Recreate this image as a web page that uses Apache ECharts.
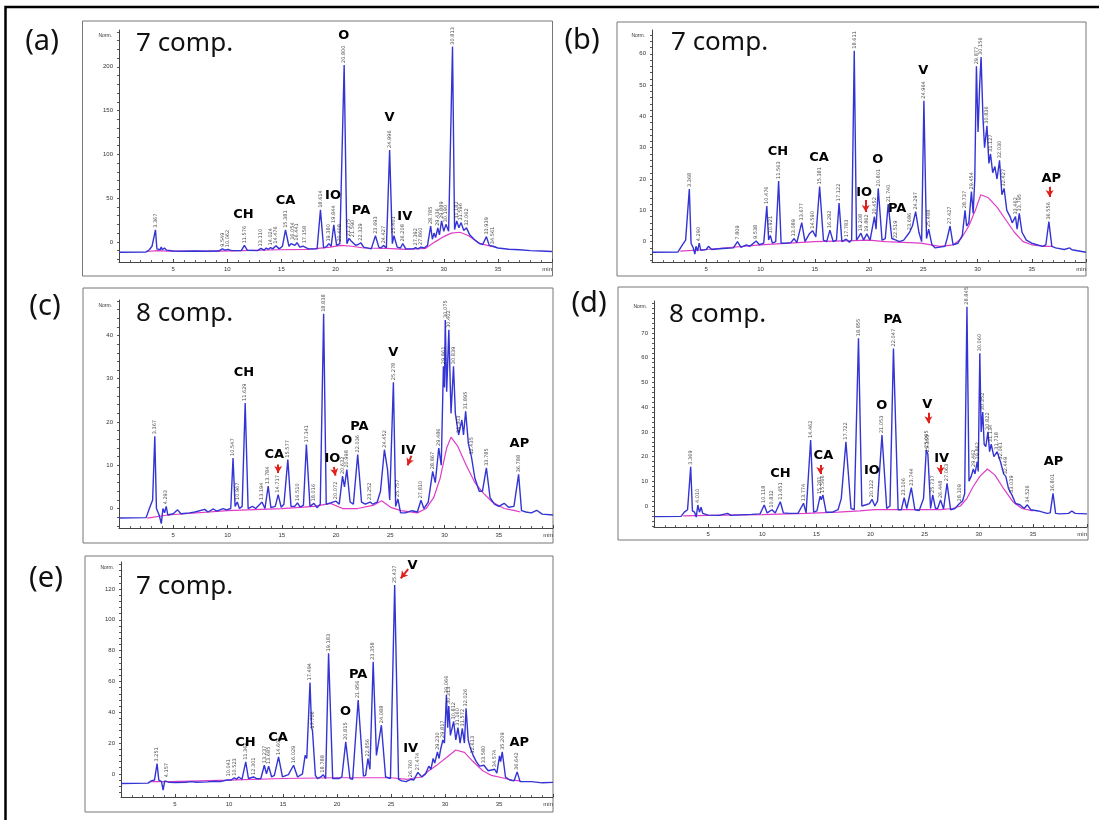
<!DOCTYPE html>
<html><head><meta charset="utf-8">
<script src="https://cdn.jsdelivr.net/npm/echarts@6/dist/echarts.min.js"></script>
<style>html,body{margin:0;padding:0;background:#fff;}#c{width:1099px;height:820px;}</style>
</head><body><div id="c"></div>
<script>
// ---------- DATA (retention time in min, response in Norm.) ----------
const xLabelValues = [5, 10, 15, 20, 25, 30, 35, 40];

const yLabelsA = [0, 50, 100, 150, 200];
const traceA = [[0,-11.8],[2.5,-11.5],[2.8,-9],[3.05,-5],[3.2,-7],[3.37,13.7],[3.5,-8],[3.8,-9],[3.9,-6],[4.0,-9],[4.2,-7],[4.4,-9.5],[5,-10.5],[6,-10.8],[7,-10.5],[8,-10.8],[9.2,-10.5],[9.55,-8],[9.8,-9.5],[10.06,-8.5],[10.4,-10],[11.3,-10],[11.58,-4],[11.85,-9.5],[12.8,-10],[13.11,-7.5],[13.4,-9.5],[13.6,-7],[13.8,-8.5],[14.0,-6.5],[14.2,-8],[14.5,-4.5],[14.8,-8],[15.1,-5],[15.38,13.7],[15.7,-5],[15.9,-2],[16.05,0],[16.25,-4],[16.45,-1],[16.7,-6],[17.0,-5],[17.16,-4],[17.5,-8],[18.3,-8],[18.61,36.6],[18.9,-7],[19.2,-5],[19.38,-2],[19.6,-5],[19.84,19.4],[20.1,-4],[20.4,-2],[20.55,-3],[20.8,202],[21.05,-2],[21.25,4],[21.45,1],[21.6,3],[21.85,-4],[22.1,-3],[22.33,-1],[22.6,-6],[23.3,-8],[23.69,6.9],[24.0,-6],[24.2,-7],[24.43,-4],[24.7,-7],[25.0,105],[25.25,-2],[25.4,7],[25.7,-6],[26.0,-7],[26.21,-2],[26.5,-8],[27.2,-8],[27.4,-6.5],[27.6,-8],[27.9,-6],[28.2,-7],[28.5,-4],[28.79,18],[28.95,3],[29.1,10],[29.25,5],[29.45,16],[29.6,8],[29.8,24],[30.0,12],[30.2,20],[30.45,12],[30.6,14],[30.81,223],[31.0,14],[31.2,24],[31.4,16],[31.6,22],[31.85,13],[32.1,16],[32.4,8],[32.8,3],[33.3,-2],[33.6,-3],[33.94,6],[34.2,-4],[34.56,-5],[35,-7],[36,-8.5],[37,-9],[38,-10],[39,-10.5],[40,-11]];
const baseA = [[2.6,-11],[3.5,-10],[4.5,-10.5],[9.3,-10.5],[11.3,-10],[14.8,-9],[17.5,-8.5],[19.5,-6],[20.5,-4],[21.5,-5],[22.6,-7],[24.7,-7.5],[26.5,-8.5],[28.3,-7.5],[29.2,0],[30,6],[30.7,10],[31.5,11],[32.3,7],[33.2,-1],[34,-4],[34.8,-6]];
const rtA = [[3.37,13.7,'3.367'],[9.55,-8,'9.549'],[10.06,-8.5,'10.062'],[11.58,-4,'11.576'],[13.11,-7.5,'13.110'],[14.0,-6.5,'14.024'],[14.5,-4.5,'14.476'],[15.38,13.7,'15.381'],[16.05,0,'16.054'],[16.45,-1,'16.441'],[17.16,-4,'17.158'],[18.61,36.6,'18.614'],[19.38,-2,'19.380'],[19.84,19.4,'19.844'],[20.4,-2,'20.408'],[20.8,202,'20.800'],[21.25,4,'21.275'],[21.6,3,'21.590'],[22.33,-1,'22.329'],[23.69,6.9,'23.693'],[24.43,-4,'24.427'],[25.0,105,'24.996'],[25.4,7,'25.401'],[26.21,-2,'26.208'],[27.4,-6.5,'27.392'],[27.9,-6,'27.860'],[28.79,18,'28.785'],[29.45,16,'29.436'],[29.8,24,'29.889'],[30.2,20,'30.190'],[30.81,223,'30.813'],[31.2,24,'31.182'],[31.6,22,'31.596'],[32.1,16,'32.062'],[33.94,6,'33.939'],[34.56,-5,'34.561']];
const compA = [['CH',11.5,31.4],['CA',15.38,46.9],['IO',19.77,52.6],['O',20.76,235.4],['PA',22.36,35.4],['V',25.0,141.7],['IV',26.4,28.6]];
const arrowsA = [];

const yLabelsB = [0, 10, 20, 30, 40, 50, 60];
const traceB = [[0,-3.4],[2.4,-3.3],[2.8,-1],[3.1,0.5],[3.25,1],[3.44,16.8],[3.6,-0.5],[3.8,-2],[3.95,-4],[4.05,-1.5],[4.2,-3],[4.35,-0.5],[4.5,-2.8],[5.0,-2.5],[5.2,-1.5],[5.5,-2.5],[6.5,-2.2],[7.5,-2],[7.88,0],[8.2,-1.8],[8.7,-1],[9.0,-1.5],[9.6,0.2],[9.9,-1],[10.3,-0.5],[10.58,11.4],[10.75,0.5],[10.9,2],[11.1,-0.5],[11.4,0],[11.67,19.4],[11.9,-0.5],[12.3,-0.5],[12.8,-0.3],[13.1,1],[13.35,-0.3],[13.8,6.1],[14.1,0],[14.5,2.5],[14.8,3.5],[15.1,1.5],[15.45,17.6],[15.8,0.5],[16.1,0],[16.4,3.7],[16.7,0],[17.0,0.5],[17.24,12.3],[17.5,0],[17.9,0.8],[18.2,-0.2],[18.4,0.5],[18.64,61],[18.85,0.5],[19.05,1.5],[19.25,2.7],[19.5,0.5],[19.8,2.5],[20.1,0.5],[20.5,8],[20.65,4],[20.85,17],[21.2,0.5],[21.5,1],[21.77,12],[22.1,1],[22.5,0.5],[22.8,0],[23.2,0.5],[23.74,3],[24.0,5],[24.3,9.6],[24.6,3],[24.85,0],[25.06,45],[25.3,1],[25.5,4],[25.8,-1],[26.1,-2],[27.0,-1.5],[27.2,1],[27.47,5],[27.75,-1],[28.2,-0.5],[28.6,2],[28.85,10],[29.0,5],[29.2,6],[29.44,16],[29.6,9],[29.75,20],[29.9,56],[30.05,35],[30.2,50],[30.33,59],[30.5,40],[30.65,30],[30.87,37],[31.05,25],[31.2,28],[31.4,22],[31.6,24],[31.8,20],[32.03,26],[32.25,15],[32.45,17],[32.7,10],[33.0,8],[33.2,6],[33.5,8],[33.65,4],[33.85,9],[34.1,3],[34.5,0.5],[35,-0.5],[36,-1.5],[36.3,-1],[36.58,6.4],[36.85,-1.5],[37.2,-2],[38,-2.5],[38.5,-2],[38.7,-2.6],[40,-3.4]];
const baseB = [[2.6,-3],[5,-2.5],[10,-1],[15,0],[18.5,0.3],[20,0.5],[21.5,0],[24.8,-0.5],[26.5,-1.5],[27.8,-1],[28.5,1],[29.2,5],[29.8,10],[30.3,15],[31,14],[31.8,11],[32.6,7],[33.4,3],[34.2,0],[35,-1],[36.2,-1.5],[36.9,-1.5]];
const rtB = [[3.44,16.8,'3.368'],[4.35,-0.5,'4.290'],[7.88,0,'7.809'],[9.6,0.2,'9.538'],[10.58,11.4,'10.476'],[10.9,2,'10.921'],[11.67,19.4,'11.563'],[13.1,1,'13.089'],[13.8,6.1,'13.677'],[14.8,3.5,'14.590'],[15.45,17.6,'15.381'],[16.4,3.7,'16.292'],[17.24,12.3,'17.122'],[17.9,0.8,'17.783'],[18.64,61,'18.611'],[19.25,2.7,'19.208'],[19.8,2.5,'19.862'],[20.5,8,'20.452'],[20.85,17,'20.801'],[21.77,12,'21.740'],[22.5,0.5,'22.519'],[23.74,3,'23.686'],[24.3,9.6,'24.297'],[25.06,45,'24.964'],[25.5,4,'25.488'],[27.47,5,'27.427'],[28.85,10,'28.737'],[29.44,16,'29.454'],[29.9,56,'29.877'],[30.33,59,'30.156'],[30.87,37,'30.836'],[31.2,28,'31.127'],[32.03,26,'32.030'],[32.45,17,'32.427'],[33.5,8,'33.462'],[33.85,9,'33.795'],[36.58,6.4,'36.556']];
const compB = [['CH',11.6,28.7],['CA',15.4,26.9],['IO',19.55,15.6],['O',20.8,26.1],['PA',22.6,10.6],['V',25.0,54.5],['AP',36.8,20.2]];
const arrowsB = [[19.7,13.3,19.7,9.5],[36.65,17.5,36.65,14.3]];

const yLabelsC = [0, 10, 20, 30, 40];
const traceC = [[0,-2.2],[2.5,-2.1],[2.8,0],[3.1,2],[3.3,16.7],[3.45,0],[3.7,-1.5],[3.9,-3.5],[4.05,0],[4.2,-1],[4.35,0.5],[4.5,-1.5],[5.0,-1.2],[5.4,-0.3],[5.7,-1.2],[6.5,-1],[7.0,-0.8],[7.9,-0.2],[8.2,-0.8],[8.7,-0.1],[9.0,-0.6],[9.6,0],[9.9,-0.3],[10.3,0],[10.51,11.7],[10.7,0.5],[10.9,1.5],[11.1,0],[11.35,0.5],[11.63,24.4],[11.9,0],[12.3,0.5],[12.6,0],[13.18,1.5],[13.45,0],[13.75,5.2],[14.0,0.2],[14.4,0.5],[14.67,3.2],[14.95,0.3],[15.2,1],[15.56,11.3],[15.85,0.5],[16.2,0.5],[16.45,1.3],[16.7,0.3],[17.0,0.8],[17.27,14.8],[17.6,0.5],[17.97,1.2],[18.25,0.2],[18.55,1],[18.86,45],[19.1,1],[19.5,1.3],[20.0,1.7],[20.3,1],[20.6,7.5],[20.78,5],[21.0,9],[21.3,1.5],[21.6,1],[22.0,12.5],[22.35,1.5],[22.7,1],[23.14,1.5],[23.4,1],[23.8,1.5],[24.1,4],[24.46,13.6],[24.75,9],[24.95,2],[25.29,29.2],[25.5,0.5],[25.71,2.2],[25.95,-1],[26.4,-1],[27.0,-0.5],[27.5,-0.8],[27.83,1.9],[28.1,0],[28.5,1.5],[28.91,8.6],[29.15,6],[29.47,14],[29.7,10],[29.9,32.9],[30.0,28],[30.07,43.6],[30.2,27],[30.4,41.3],[30.6,22],[30.83,32.9],[31.0,22],[31.3,17],[31.6,20.5],[31.75,17],[31.95,22.5],[32.2,15],[32.48,12],[32.8,7],[33.2,4],[33.5,4],[33.86,9.4],[34.2,2.5],[34.6,1],[35.0,0.5],[35.5,1.2],[35.9,0.3],[36.4,0.5],[36.83,7.9],[37.1,-0.5],[37.5,-0.8],[38,-1],[38.5,-0.4],[39,-1.3],[40,-1.5]];
const baseC = [[2.6,-2.2],[4.5,-1.5],[10,-0.5],[15,0],[18,0.5],[19.5,1.2],[20.6,0],[22,0],[23.5,0.8],[24.2,1.8],[25.1,0.2],[26,-0.5],[27.5,-1],[28.3,0],[29,2.5],[29.6,7],[30.2,14],[30.6,16.5],[31.2,14.5],[32,10],[32.8,6],[33.6,3.5],[34.4,1.5],[35.5,0],[36.5,-0.5],[37,-0.8]];
const rtC = [[3.3,16.7,'3.367'],[4.35,0.5,'4.293'],[10.51,11.7,'10.547'],[10.9,1.5,'10.967'],[11.63,24.4,'11.629'],[13.18,1.5,'13.194'],[13.75,5.2,'13.784'],[14.67,3.2,'14.717'],[15.56,11.3,'15.577'],[16.45,1.3,'16.510'],[17.27,14.8,'17.341'],[17.97,1.2,'18.016'],[18.86,45,'18.838'],[20.0,1.7,'20.072'],[20.6,7.5,'20.632'],[21.0,9,'20.998'],[22.0,12.5,'22.036'],[23.14,1.5,'23.252'],[24.46,13.6,'24.452'],[25.29,29.2,'25.278'],[25.71,2.2,'25.757'],[27.83,1.9,'27.810'],[28.91,8.6,'28.867'],[29.47,14,'29.486'],[29.9,32.9,'29.861'],[30.07,43.6,'30.075'],[30.4,41.3,'30.402'],[30.83,32.9,'30.839'],[31.3,17,'31.303'],[31.95,22.5,'31.895'],[32.48,12,'32.435'],[33.86,9.4,'33.785'],[36.83,7.9,'36.788']];
const compC = [['CH',11.52,31.3],['CA',14.31,12.5],['IO',19.67,11.5],['O',21.0,15.7],['PA',22.16,18.9],['V',25.28,36],['IV',26.66,13.4],['AP',36.9,15]];
const arrowsC = [[14.67,10.2,14.67,8.2],[19.8,9.6,19.95,7.6],[26.95,12.2,26.6,10.0]];

const yLabelsD = [0, 10, 20, 30, 40, 50, 60, 70];
const traceD = [[0,-4.3],[2.5,-4.2],[2.8,-2.5],[3.1,-1.5],[3.39,15.9],[3.55,-2],[3.75,-2.5],[3.9,-4.5],[4.05,0.4],[4.2,-2.5],[4.35,-0.5],[4.5,-3],[5,-3.7],[6,-3.8],[6.8,-3],[7.1,-3.8],[8,-3.6],[9,-3.4],[9.8,-3.2],[10.18,0.4],[10.45,-2.8],[10.9,-1.5],[11.2,-2.8],[11.67,1.7],[11.95,-2.8],[12.5,-3],[13.3,-3],[13.81,1.1],[14.05,-2.8],[14.2,-2],[14.47,26.7],[14.75,-2.5],[15.05,-2],[15.35,4],[15.45,2.5],[15.6,4.5],[15.9,-2.5],[16.5,-2.5],[17.0,-1.5],[17.3,3],[17.73,26],[18.2,-1],[18.5,-1.5],[18.89,67.9],[19.2,0],[19.6,0.5],[19.9,1],[20.14,2.7],[20.4,0],[20.65,2],[21.06,28.7],[21.5,-1],[21.8,0],[22.12,63.8],[22.55,-1.5],[22.85,-1.5],[23.11,3.4],[23.35,-1],[23.77,7.4],[24.1,-1.5],[24.5,-1.8],[24.9,3],[25.15,22.7],[25.3,21],[25.55,-1],[25.75,4.5],[26.0,-1],[26.2,-1],[26.47,2.4],[26.75,-1.2],[27.07,9.2],[27.4,-1.5],[27.8,-1],[28.22,1],[28.5,2],[28.7,5],[28.91,80.7],[29.1,10],[29.3,12],[29.5,15],[29.65,13],[29.86,18],[29.95,14],[30.1,61.8],[30.22,30],[30.37,38],[30.5,25],[30.65,24],[30.85,30],[31.0,22],[31.15,25],[31.4,20],[31.7,22],[32.0,18],[32.3,13],[32.5,12],[32.75,7],[33.06,4.5],[33.4,1],[33.8,0.5],[34.2,-1],[34.49,0.5],[34.8,-1.5],[35.5,-2],[36.3,-3],[36.6,-2.8],[36.86,5.1],[37.1,-3],[37.5,-3.2],[38.3,-3],[38.6,-2],[38.9,-3],[40,-3.2]];
const baseD = [[2.7,-4],[5,-3.8],[10,-3.5],[14,-3],[17,-2.5],[19,-2],[20.4,-1.5],[23,-1.5],[25,-1.5],[26.5,-1.5],[27.6,-1],[28.3,0],[28.9,3],[29.5,8],[30.1,12],[30.8,15],[31.5,12.5],[32.3,7],[33.2,1.5],[34,-1],[35,-2]];
const rtD = [[3.39,15.9,'3.369'],[4.05,0.4,'4.010'],[10.18,0.4,'10.118'],[10.9,-1.5,'10.832'],[11.67,1.7,'11.651'],[13.81,1.1,'13.774'],[14.47,26.7,'14.462'],[15.35,4,'15.281'],[15.6,4.5,'15.566'],[17.73,26,'17.722'],[18.89,67.9,'18.855'],[20.14,2.7,'20.122'],[21.06,28.7,'21.053'],[22.12,63.8,'22.047'],[23.11,3.4,'23.106'],[23.77,7.4,'23.744'],[25.15,22.7,'25.095'],[25.3,21,'25.355'],[25.75,4.5,'25.737'],[26.47,2.4,'26.448'],[27.07,9.2,'27.063'],[28.22,1,'28.109'],[28.91,80.7,'28.845'],[29.5,15,'29.462'],[29.86,18,'29.862'],[30.1,61.8,'30.060'],[30.37,38,'30.352'],[30.85,30,'30.822'],[31.15,25,'31.134'],[31.7,22,'31.718'],[32.0,18,'32.061'],[32.5,12,'32.449'],[33.06,4.5,'33.039'],[34.49,0.5,'34.526'],[36.86,5.1,'36.801']];
const compD = [['CH',11.68,13.2],['CA',15.65,20.4],['IO',20.13,14.2],['O',21.05,40.7],['PA',22.04,75.4],['V',25.25,40.9],['IV',26.57,19.1],['AP',36.9,17.8]];
const arrowsD = [[15.36,16.6,15.36,13],[25.35,37.8,25.35,33.5],[26.47,16.6,26.47,13]];

const yLabelsE = [0, 20, 40, 60, 80, 100, 120];
const traceE = [[0,-6.2],[2.5,-6],[2.8,-4.5],[3.1,-4],[3.34,6.7],[3.5,-4],[3.75,-5],[3.9,-10.6],[4.05,-4.5],[4.2,-3.5],[4.5,-5.5],[5,-5.6],[6,-5.4],[6.5,-5],[7,-5.4],[8,-5.2],[8.7,-4.8],[9.2,-5],[9.8,-4],[9.96,-3],[10.2,-4],[10.5,-2.5],[10.7,-3.5],[10.9,-2],[11.2,-3.5],[11.55,7.8],[11.8,-3],[12.27,-2],[12.6,-3.2],[12.95,-3],[13.27,5.6],[13.47,0],[13.67,5],[13.95,-2],[14.2,-1],[14.59,11],[14.95,-2],[15.5,-0.5],[15.98,5.6],[16.35,-2],[16.8,0],[17.05,12],[17.2,10],[17.5,59.3],[17.65,30],[17.73,28],[18.0,-1],[18.2,-3],[18.5,-2],[18.72,-0.5],[18.95,-3],[19.22,78.2],[19.6,-3],[20.2,-3],[20.45,-2],[20.81,20.8],[21.2,-3],[21.45,-3.5],[21.96,47.9],[22.45,-1.5],[22.65,-1],[22.86,10],[23.05,3],[23.35,72.7],[23.65,12],[23.8,13],[24.11,31.6],[24.5,-2],[24.95,-3],[25.34,122.5],[25.7,-3.5],[26.0,-4.5],[26.4,-5],[26.82,-3.5],[27.1,-4],[27.49,1],[27.85,-2],[28.2,0],[28.5,5],[28.7,3],[28.9,10],[29.05,7],[29.3,14.3],[29.45,10],[29.6,16],[29.8,22],[29.95,20],[30.13,51.1],[30.25,30],[30.35,44],[30.5,25],[30.6,24],[30.8,34],[31.0,22],[31.2,30],[31.4,20],[31.6,29.5],[31.8,20],[31.95,42.5],[32.15,22],[32.3,18],[32.6,12],[32.9,8],[33.2,5],[33.6,5.6],[34.0,2],[34.3,2.5],[34.6,3],[34.8,0.5],[35.05,11.7],[35.15,8],[35.3,14.3],[35.6,-2],[36.0,-4],[36.4,-4.5],[36.68,1.3],[36.95,-5],[38,-5],[39,-5.8],[40,-5.5]];
const baseE = [[2.7,-5],[4.5,-5],[10,-4],[15,-3],[20,-2.5],[25,-2.5],[26.5,-3.5],[27.8,-2],[28.5,2],[29.3,6],[30.2,11],[31,15.5],[31.8,14],[32.6,8],[33.5,2],[34.3,-1],[35.3,-2.5],[36.2,-4],[37,-4.5]];
const rtE = [[3.34,6.7,'3.251'],[4.2,-3.5,'4.157'],[9.96,-3,'10.041'],[10.5,-2.5,'10.523'],[11.55,7.8,'11.364'],[12.27,-2,'12.301'],[13.27,5.6,'13.237'],[13.67,5,'13.685'],[14.59,11,'14.605'],[15.98,5.6,'16.029'],[17.5,59.3,'17.494'],[17.73,28,'17.706'],[18.72,-0.5,'18.788'],[19.22,78.2,'19.183'],[20.81,20.8,'20.815'],[21.96,47.9,'21.956'],[22.86,10,'22.856'],[23.35,72.7,'23.358'],[24.11,31.6,'24.088'],[25.34,122.5,'25.437'],[26.82,-3.5,'26.760'],[27.49,1,'27.474'],[29.3,14.3,'29.230'],[29.8,22,'29.817'],[30.13,51.1,'30.066'],[30.35,44,'30.313'],[30.8,34,'30.812'],[31.2,30,'31.160'],[31.6,29.5,'31.572'],[31.95,42.5,'32.026'],[32.6,12,'32.613'],[33.6,5.6,'33.580'],[34.6,3,'34.574'],[35.3,14.3,'35.209'],[36.68,1.3,'36.642']];
const compE = [['CH',11.53,20.6],['CA',14.54,23.8],['O',20.79,40.4],['PA',21.96,64.7],['V',27.0,134.9],['IV',26.82,16.7],['AP',36.88,20.6]];
const arrowsE = [[26.59,132.9,25.9,126.9]];

// ---------- LAYOUT ----------
const panels = [
  {tag:'(a)', comp:'7 comp.', trace:traceA, base:baseA, rt:rtA, names:compA, arrows:arrowsA, yLabels:yLabelsA, yStep:10,
   grid:{left:119, top:30, width:433, height:232}, yMin:-23, yMax:242, frame:[82.5,21,470,255], tagPos:[42,42], compPos:[136,44]},
  {tag:'(b)', comp:'7 comp.', trace:traceB, base:baseB, rt:rtB, names:compB, arrows:arrowsB, yLabels:yLabelsB, yStep:2,
   grid:{left:652, top:30, width:434, height:232}, yMin:-6.5, yMax:67.6, frame:[617,22,469,254], tagPos:[582,41], compPos:[671,43]},
  {tag:'(c)', comp:'8 comp.', trace:traceC, base:baseC, rt:rtC, names:compC, arrows:arrowsC, yLabels:yLabelsC, yStep:2,
   grid:{left:119, top:300, width:434, height:228}, yMin:-4.5, yMax:48.2, frame:[83,288,470,255], tagPos:[45,307], compPos:[136,314]},
  {tag:'(d)', comp:'8 comp.', trace:traceD, base:baseD, rt:rtD, names:compD, arrows:arrowsD, yLabels:yLabelsD, yStep:2,
   grid:{left:654, top:301, width:433, height:226}, yMin:-8.5, yMax:83, frame:[618,287,470,253], tagPos:[589,304], compPos:[669,315]},
  {tag:'(e)', comp:'7 comp.', trace:traceE, base:baseE, rt:rtE, names:compE, arrows:arrowsE, yLabels:yLabelsE, yStep:4,
   grid:{left:121, top:562, width:432, height:235}, yMin:-15, yMax:137.5, frame:[85,556,468,256], tagPos:[46,579], compPos:[136,587]}
];

const BLUE = '#3434d4', PINK = '#e03cc6', AX = '#444';
const grids = [], xAxes = [], yAxes = [], series = [], graphics = [];

graphics.push({type:'rect', shape:{x:5.5, y:7, width:1120, height:840}, style:{fill:'none', stroke:'#000', lineWidth:2.5}, silent:true});

panels.forEach((p, i) => {
  grids.push(Object.assign({containLabel:false}, p.grid));
  xAxes.push({
    gridIndex:i, type:'value', min:0, max:40, interval:5,
    axisLine:{onZero:false, lineStyle:{color:AX, width:1}},
    axisTick:{show:true, inside:true, length:3, lineStyle:{color:AX}},
    minorTick:{show:true, splitNumber:5, length:2, lineStyle:{color:'#666'}},
    splitLine:{show:false},
    axisLabel:{customValues:xLabelValues, fontSize:6, color:'#333', margin:4, alignMaxLabel:'right',
      formatter: v => v === 40 ? 'min' : String(v)}
  });
  const ticks = [];
  for (let v = Math.ceil(p.yMin / p.yStep) * p.yStep; v <= p.yMax; v += p.yStep) ticks.push(v);
  yAxes.push({
    gridIndex:i, type:'value', min:p.yMin, max:p.yMax,
    axisLine:{show:true, lineStyle:{color:AX, width:1}},
    axisTick:{show:true, length:2, customValues:ticks, lineStyle:{color:'#555'}},
    splitLine:{show:false},
    axisLabel:{customValues:p.yLabels, fontSize:6, color:'#333', margin:6},
    name:'Norm.', nameLocation:'end', nameGap:-6,
    nameTextStyle:{fontSize:5, color:'#333', align:'right', verticalAlign:'middle', padding:[0,7,0,0]}
  });
  series.push({
    type:'line', xAxisIndex:i, yAxisIndex:i, data:p.base, showSymbol:false, z:2,
    lineStyle:{color:PINK, width:1.2}, animation:false, silent:true
  });
  series.push({
    type:'line', xAxisIndex:i, yAxisIndex:i, data:p.trace, showSymbol:false, z:3,
    lineStyle:{color:BLUE, width:1.4}, animation:false, silent:true
  });
  series.push({
    type:'scatter', xAxisIndex:i, yAxisIndex:i, z:4, symbolSize:0.01, itemStyle:{color:'#000'},
    data:p.rt.map(d => ({name:d[2], value:[d[0], d[1]]})), animation:false, silent:true,
    label:{show:true, position:'top', distance:2, rotate:90, align:'left', verticalAlign:'middle',
      formatter:'{b}', fontSize:5, color:'#111', fontFamily:'DejaVu Sans'}
  });
  series.push({
    type:'scatter', xAxisIndex:i, yAxisIndex:i, z:5, symbolSize:0.01, itemStyle:{color:'#000'},
    data:p.names.map(d => ({name:d[0], value:[d[1], d[2]]})), animation:false, silent:true,
    label:{show:true, position:'inside', formatter:'{b}', fontSize:13, fontWeight:'bold', color:'#000', opacity:1,
      textBorderWidth:0, fontFamily:'DejaVu Sans'},
    markLine:{silent:true, animation:false, symbol:['none','arrow'], symbolSize:[6,7],
      lineStyle:{color:'#e0201c', width:2, type:'solid'}, label:{show:false},
      data:p.arrows.map(a => [{coord:[a[0], a[1]]}, {coord:[a[2], a[3]]}])}
  });
  const f = p.frame;
  graphics.push({type:'rect', shape:{x:f[0], y:f[1], width:f[2], height:f[3]}, style:{fill:'none', stroke:'#777', lineWidth:1}, silent:true});
  graphics.push({type:'text', x:p.tagPos[0], y:p.tagPos[1], silent:true,
    style:{text:p.tag, font:'29px "Noto Sans"', fill:'#111', textAlign:'center', textVerticalAlign:'middle', align:'center', verticalAlign:'middle'}});
  graphics.push({type:'text', x:p.compPos[0], y:p.compPos[1], silent:true,
    style:{text:p.comp, font:'26px "Noto Sans"', fill:'#111', textAlign:'left', textVerticalAlign:'middle', align:'left', verticalAlign:'middle'}});
});

const chart = echarts.init(document.getElementById('c'), null, {renderer:'canvas'});
chart.setOption({animation:false, backgroundColor:'#fff', grid:grids, xAxis:xAxes, yAxis:yAxes, series:series, graphic:{elements:graphics}});
</script></body></html>
